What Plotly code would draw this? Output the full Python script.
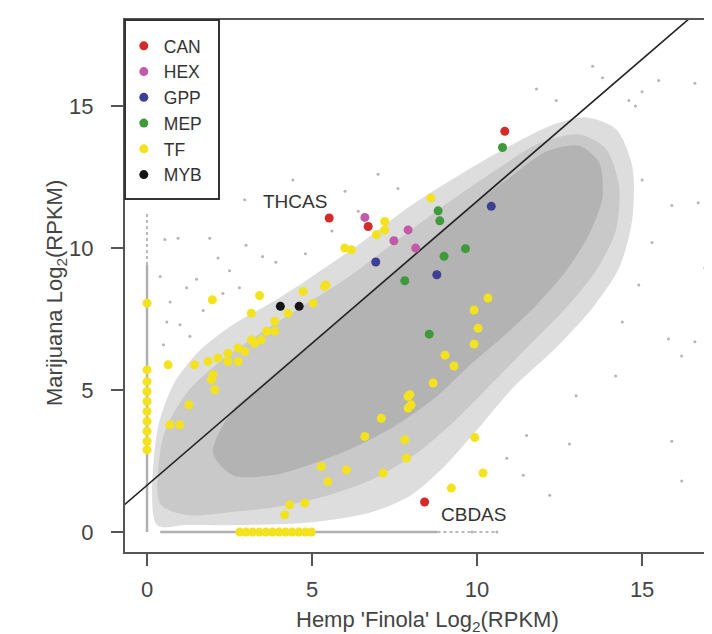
import plotly.graph_objects as go

# ---------------- data ----------------
# Highlighted gene groups: (Hemp log2 RPKM, Marijuana log2 RPKM)
can_x = [5.52, 6.70, 10.84, 8.41]
can_y = [11.06, 10.76, 14.11, 1.06]

hex_x = [6.60, 7.91, 7.48, 8.14]
hex_y = [11.08, 10.64, 10.26, 10.00]

gpp_x = [6.93, 10.43, 8.78]
gpp_y = [9.51, 11.47, 9.06]

mep_x = [10.77, 8.82, 8.87, 9.65, 9.00, 7.81, 8.55]
mep_y = [13.54, 11.31, 10.96, 9.98, 9.71, 8.85, 6.97]

tf_x = [0.0, 0.0, 0.0, 0.0, 0.0, 0.0, 0.0, 0.0, 0.0, 0.0,
        1.98, 3.41, 3.16, 4.73, 5.38, 5.03, 4.27, 3.87, 3.62, 3.46,
        3.87, 3.16, 2.76, 2.45, 2.15, 1.85, 1.44, 0.64, 2.00, 2.76,
        2.96, 3.26, 2.45, 5.99, 6.19, 7.20, 7.20, 6.95, 8.60, 5.42,
        0.69, 0.99, 1.27, 2.05, 1.95, 5.28, 5.48, 6.04, 6.60, 7.10,
        7.91, 8.00, 7.81, 7.86, 7.15, 4.32, 4.78, 4.17, 8.67, 7.96,
        7.91, 9.93, 10.18, 9.22, 9.91, 10.33, 10.03, 9.91, 9.03, 9.30,
        2.81, 3.00, 3.20, 3.40, 3.60, 3.80, 4.00, 4.20, 4.40, 4.60,
        4.80, 4.98]
tf_y = [8.06, 5.71, 4.95, 4.60, 4.25, 3.90, 3.55, 3.20, 2.90, 5.30,
        8.18, 8.33, 7.71, 8.47, 8.65, 8.06, 7.71, 7.42, 7.07, 6.77,
        7.07, 6.77, 6.48, 6.30, 6.13, 6.01, 5.89, 5.89, 5.54, 6.01,
        6.36, 6.65, 6.01, 10.00, 9.94, 10.94, 10.64, 10.47, 11.76, 8.70,
        3.78, 3.78, 4.48, 5.01, 5.36, 2.31, 1.78, 2.19, 3.37, 4.01,
        4.78, 4.48, 3.25, 2.61, 2.08, 0.96, 1.02, 0.61, 5.25, 4.84,
        4.37, 3.33, 2.08, 1.55, 7.82, 8.24, 7.18, 6.62, 6.23, 5.85,
        0.0, 0.0, 0.0, 0.0, 0.0, 0.0, 0.0, 0.0, 0.0, 0.0,
        0.0, 0.0]

myb_x = [4.04, 4.61]
myb_y = [7.95, 7.95]

# Outline of the grey cloud of all other genes (three density levels)
halo_x = [0.3, 0.3, 0.8, 1.6, 2.6, 3.8, 5.0, 6.5, 8.0, 9.5, 11.0, 12.2, 13.3,
          14.2, 14.7, 14.7, 14.3, 13.5, 12.4, 11.1, 10.0, 9.0, 8.0, 6.8, 5.0,
          3.0, 1.2]
halo_y = [0.25, 3.5, 5.2, 6.4, 7.3, 8.1, 9.0, 10.2, 11.5, 12.6, 13.6, 14.3, 14.6,
          14.2, 12.9, 11.0, 9.3, 7.9, 6.5, 5.1, 3.6, 2.3, 1.3, 0.7, 0.35,
          0.25, 0.25]

mid_x = [0.4, 0.5, 1.2, 2.2, 3.3, 4.5, 6.0, 7.5, 9.0, 10.5, 11.9, 13.1, 13.9,
         14.3, 14.2, 13.6, 12.7, 11.6, 10.5, 9.4, 8.2, 6.9, 5.5, 4.0, 2.5, 1.2]
mid_y = [1.0, 3.4, 4.9, 6.0, 6.9, 7.8, 8.9, 10.2, 11.5, 12.7, 13.7, 14.0, 13.5,
         12.2, 10.6, 9.2, 7.9, 6.6, 5.3, 4.0, 2.8, 1.9, 1.3, 0.9, 0.7, 0.6]

core_x = [2.0, 2.6, 3.5, 5.0, 6.5, 8.0, 9.5, 11.0, 12.1, 13.1, 13.7, 13.8,
          13.4, 12.7, 11.8, 10.8, 9.8, 8.8, 7.6, 6.3, 5.0, 3.8, 2.6]
core_y = [2.8, 4.3, 5.2, 6.7, 8.2, 9.7, 11.2, 12.5, 13.4, 13.6, 13.0, 11.8,
          10.5, 9.2, 8.0, 6.9, 5.9, 4.8, 3.8, 3.0, 2.4, 2.0, 2.0]

# Genes expressed in only one sample (value 0 in the other)
zero_hemp_y = [0.0, 9.4, 11.2]
zero_mj_x = [0.4, 8.8, 10.6]

# Scattered outlier genes
out_x = [17.1, 15.5, 16.6, 17.0, 14.6, 15.0, 14.8, 12.8, 12.2, 11.4, 10.6, 9.85,
         0.54, 0.94, 1.90, 2.96, 2.15, 4.42, 15.8, 16.2, 16.6, 16.9, 16.7, 15.9,
         14.2, 13.0, 11.5, 10.9, 6.0, 7.0, 3.5, 1.2, 0.6, 15.9, 16.2, 13.8,
         0.5, 1.0, 1.5, 2.5, 3.0, 3.9, 0.7, 1.3, 2.3, 4.8, 5.6, 6.4, 7.6, 0.4,
         1.7, 2.8, 12.4, 13.5, 11.8, 15.0, 15.3, 14.9, 14.4]
out_y = [17.3, 15.9, 15.8, 15.8, 15.2, 15.5, 15.0, 3.1, 1.3, 2.0, 0.0, 0.0,
         10.3, 10.35, 10.35, 11.7, 9.65, 12.4, 6.8, 6.2, 6.7, 9.3, 11.6, 11.5,
         5.5, 4.8, 3.4, 2.6, 12.0, 12.6, 9.7, 8.6, 7.4, 3.2, 1.8, 16.0,
         6.6, 7.3, 8.9, 9.2, 10.1, 9.5, 8.1, 6.9, 8.4, 9.8, 10.6, 11.3, 12.1, 9.0,
         7.8, 8.6, 15.2, 16.4, 15.6, 12.4, 10.2, 8.7, 7.4]

# Reference line: Marijuana = Hemp + offset
line_offset = 1.65
line_x = [-1.0, 17.5]

x_ticks = [0, 5, 10, 15]
y_ticks = [0, 5, 10, 15]

# ---------------- figure ----------------
FONT = "Liberation Sans, Arial, sans-serif"
TXT = "#444444"

fig = go.Figure()

for xs, ys, col in [(halo_x, halo_y, "#dddddd"), (mid_x, mid_y, "#c9c9c9"),
                    (core_x, core_y, "#b3b3b3")]:
    fig.add_trace(go.Scatter(x=xs + xs[:1], y=ys + ys[:1], mode="lines",
                             fill="toself", fillcolor=col,
                             line=dict(width=0, color=col, shape="spline",
                                       smoothing=0.8),
                             hoverinfo="skip", showlegend=False))

fig.add_trace(go.Scatter(x=[0, 0], y=zero_hemp_y[:2], mode="lines",
                         line=dict(color="#b0b0b0", width=2.5),
                         showlegend=False, hoverinfo="skip"))
fig.add_trace(go.Scatter(x=[0, 0], y=zero_hemp_y[1:], mode="lines",
                         line=dict(color="#b8b8b8", width=2, dash="dot"),
                         showlegend=False, hoverinfo="skip"))
fig.add_trace(go.Scatter(x=zero_mj_x[:2], y=[0, 0], mode="lines",
                         line=dict(color="#b0b0b0", width=2.5),
                         showlegend=False, hoverinfo="skip"))
fig.add_trace(go.Scatter(x=zero_mj_x[1:], y=[0, 0], mode="lines",
                         line=dict(color="#b8b8b8", width=2, dash="dot"),
                         showlegend=False, hoverinfo="skip"))
fig.add_trace(go.Scatter(x=out_x, y=out_y, mode="markers",
                         marker=dict(color="#b4b4b4", size=3),
                         showlegend=False, hoverinfo="skip"))

fig.add_trace(go.Scatter(x=line_x, y=[v + line_offset for v in line_x],
                         mode="lines", line=dict(color="#222222", width=1.6),
                         showlegend=False, hoverinfo="skip"))

groups = [("CAN", can_x, can_y, "#d42a2a"),
          ("HEX", hex_x, hex_y, "#c35aa8"),
          ("GPP", gpp_x, gpp_y, "#3c3f92"),
          ("MEP", mep_x, mep_y, "#3f9a3c"),
          ("TF", tf_x, tf_y, "#f3e21e"),
          ("MYB", myb_x, myb_y, "#151515")]
legend_order = [g[0] for g in groups]
traces = {}
for name, xs, ys, col in groups:
    traces[name] = go.Scatter(x=xs, y=ys, mode="markers", name=name,
                              legendrank=legend_order.index(name) + 1,
                              marker=dict(color=col, size=9, line=dict(width=0)))
# draw TF first so the other groups sit on top of it
for name in ["TF", "CAN", "HEX", "GPP", "MEP", "MYB"]:
    fig.add_trace(traces[name])

fig.add_annotation(x=4.48, y=11.65, text="THCAS", showarrow=False,
                   font=dict(family=FONT, size=19, color="#333333"))
fig.add_annotation(x=9.9, y=0.63, text="CBDAS", showarrow=False,
                   font=dict(family=FONT, size=19, color="#333333"))

W, H = 712, 634
L, R, T, B = 117, 0, 12, 90
PW, PH = W - L - R, H - T - B
x_range = [-0.667, 17.36]
y_range = [-0.70, 18.03]

# legend frame
fig.add_shape(type="rect", xref="paper", yref="paper",
              x0=0, x1=(211 - L) / PW, y0=(H - B - 191) / PH, y1=1,
              line=dict(color="#333333", width=2), fillcolor="white", layer="above")

fig.add_annotation(xref="paper", yref="paper", x=(419 - L) / PW,
                   y=(H - B - 613) / PH, yanchor="middle",
                   text="Hemp 'Finola' Log<sub>2</sub>(RPKM)", showarrow=False,
                   font=dict(family=FONT, size=22, color=TXT))
fig.add_annotation(xref="paper", yref="paper", x=(32 - L) / PW,
                   y=(H - B - 285) / PH, textangle=-90,
                   text="Marijuana Log<sub>2</sub>(RPKM)", showarrow=False,
                   font=dict(family=FONT, size=22, color=TXT))

fig.update_layout(
    width=W, height=H, margin=dict(l=L, r=R, t=T, b=B),
    plot_bgcolor="white", paper_bgcolor="white",
    font=dict(family=FONT, size=22, color=TXT),
    showlegend=True,
    legend=dict(x=-0.002, y=0.985, xanchor="left", yanchor="top",
                bgcolor="rgba(0,0,0,0)", borderwidth=0,
                font=dict(family=FONT, size=17.5, color="#333333"),
                itemsizing="trace"),
    xaxis=dict(range=x_range, tickvals=x_ticks, ticks="outside", ticklen=12,
               tickwidth=2, tickcolor="#555555", showgrid=False, zeroline=False,
               showline=True, linecolor="#555555", linewidth=2, mirror=True,
               ticklabelstandoff=5),
    yaxis=dict(range=y_range, tickvals=y_ticks, ticks="outside", ticklen=12,
               tickwidth=2, tickcolor="#555555", showgrid=False, zeroline=False,
               showline=True, linecolor="#555555", linewidth=2,
               ticklabelstandoff=13),
)

fig.write_html("out.html")
